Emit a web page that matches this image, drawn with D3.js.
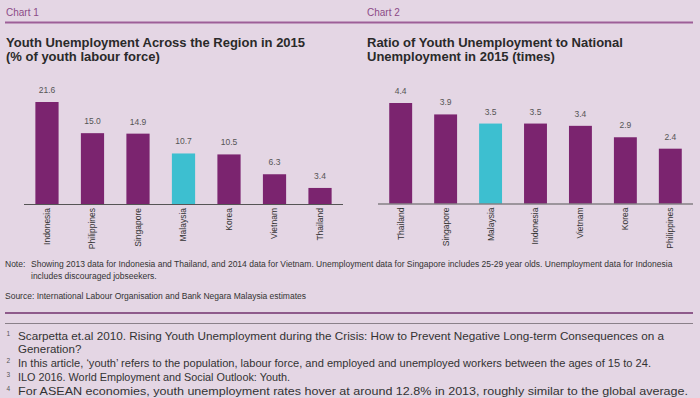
<!DOCTYPE html>
<html>
<head>
<meta charset="utf-8">
<script src="https://cdn.jsdelivr.net/npm/d3@7"></script>
<style>
  body { margin: 0; background: #e4d6e4; }
  svg { display: block; font-family: "Liberation Sans", Arial, sans-serif; }
</style>
</head>
<body>
<svg id="chart"></svg>
<script>
var chart1Categories = ['Indonesia', 'Philippines', 'Singapore', 'Malaysia', 'Korea', 'Vietnam', 'Thailand']
var chart1Values = [21.6, 15.0, 14.9, 10.7, 10.5, 6.3, 3.4]
var chart2Categories = ['Thailand', 'Singapore', 'Malaysia', 'Indonesia', 'Vietnam', 'Korea', 'Philippines']
var chart2Values = [4.4, 3.9, 3.5, 3.5, 3.4, 2.9, 2.4]
var highlight = 'Malaysia'

var noteLines = [
  'Showing 2013 data for Indonesia and Thailand, and 2014 data for Vietnam. Unemployment data for Singapore includes 25-29 year olds. Unemployment data for Indonesia',
  'includes discouraged jobseekers.'
]
var sourceText = 'Source: International Labour Organisation and Bank Negara Malaysia estimates'
var footnoteMarks = ['1', '', '2', '3', '4']
var footnoteLines = [
  'Scarpetta et.al 2010. Rising Youth Unemployment during the Crisis: How to Prevent Negative Long-term Consequences on a',
  'Generation?',
  'In this article, \u2018youth\u2019 refers to the population, labour force, and employed and unemployed workers between the ages of 15 to 24.',
  'ILO 2016. World Employment and Social Outlook: Youth.',
  'For ASEAN economies, youth unemployment rates hover at around 12.8% in 2013, roughly similar to the global average.'
]

var purple = '#7b246f'
var cyan = '#3dbfd0'
var fmt = d3.format('.1f')

var svg = d3.select('#chart').attr('width', 700).attr('height', 398)

svg.append('rect').attr('width', 700).attr('height', 398).attr('fill', '#e4d6e4')

// header
svg.append('text').attr('x', 6).attr('y', 15.5).attr('font-size', 10).attr('fill', '#8c4a87').text('Chart 1')
svg.append('text').attr('x', 367).attr('y', 15.5).attr('font-size', 10).attr('fill', '#8c4a87').text('Chart 2')
svg.append('line').attr('x1', 5).attr('x2', 693).attr('y1', 22.5).attr('y2', 22.5)
  .attr('stroke', '#9d5f98').attr('stroke-width', 2)

function title (x, lines) {
  lines.forEach(function (t, i) {
    svg.append('text').attr('x', x).attr('y', 47 + i * 14)
      .attr('font-size', 13).attr('font-weight', 'bold').attr('fill', '#2a2a2a').text(t)
  })
}
title(6, ['Youth Unemployment Across the Region in 2015', '(% of youth labour force)'])
title(367, ['Ratio of Youth Unemployment to National', 'Unemployment in 2015 (times)'])

function barChart (cats, vals, x0, x1, base, yMax, yTop) {
  var x = d3.scaleBand().domain(cats).range([x0, x1]).paddingInner(0.49).paddingOuter(0.25)
  var y = d3.scaleLinear().domain([0, yMax]).range([base, yTop])
  var data = cats.map((c, i) => ({ key: c, value: vals[i] }))
  var g = svg.append('g')

  g.selectAll('.bar').data(data).enter().append('rect')
    .attr('class', 'bar')
    .attr('x', d => x(d.key))
    .attr('width', x.bandwidth())
    .attr('y', d => y(d.value))
    .attr('height', d => base - y(d.value))
    .attr('fill', d => (d.key == highlight ? cyan : purple))

  g.selectAll('.val').data(data).enter().append('text')
    .attr('class', 'val')
    .attr('x', d => x(d.key) + x.bandwidth() / 2)
    .attr('y', d => y(d.value) - 9)
    .attr('text-anchor', 'middle')
    .attr('font-size', 8.5).attr('fill', '#555')
    .text(d => fmt(d.value))

  g.append('line').attr('x1', x0).attr('x2', x1).attr('y1', base + 0.5).attr('y2', base + 0.5)
    .attr('stroke', '#555').attr('stroke-width', 1)

  g.selectAll('.cat').data(data).enter().append('text')
    .attr('class', 'cat')
    .attr('transform', d => 'translate(' + (x(d.key) + x.bandwidth() / 2) + ',' + (base + 4) + ') rotate(-90)')
    .attr('text-anchor', 'end')
    .attr('dy', '0.35em')
    .attr('font-size', 8.5).attr('fill', '#333')
    .text(d => d.key)
}

barChart(chart1Categories, chart1Values, 24, 343, 204, 21.6, 102)
barChart(chart2Categories, chart2Values, 378, 693, 203.5, 4.4, 103)

// note and source
svg.append('text').attr('x', 5).attr('y', 267).attr('font-size', 8.5).attr('fill', '#333').text('Note:')
noteLines.forEach(function (t, i) {
  svg.append('text').attr('x', 31).attr('y', 267 + i * 11.5).attr('font-size', 8.5).attr('fill', '#333').text(t)
})
svg.append('text').attr('x', 5).attr('y', 298.5).attr('font-size', 8.5).attr('fill', '#333').text(sourceText)

// footnotes
svg.append('line').attr('x1', 5).attr('x2', 693).attr('y1', 313).attr('y2', 313)
  .attr('stroke', '#8e5a8b').attr('stroke-width', 2)
svg.append('line').attr('x1', 5).attr('x2', 693).attr('y1', 323.5).attr('y2', 323.5)
  .attr('stroke', '#8a8089').attr('stroke-width', 1.2)

var footEnds = [664, 0, 651, 290, 688]
footnoteLines.forEach(function (t, i) {
  var yy = 339.5 + i * 13.8
  if (footnoteMarks[i]) {
    svg.append('text').attr('x', 6.5).attr('y', yy - 4).attr('font-size', 6.5).attr('fill', '#555').text(footnoteMarks[i])
  }
  var tx = svg.append('text').attr('x', 18).attr('y', yy).attr('font-size', 11.5).attr('fill', '#333').text(t)
  if (footEnds[i]) tx.attr('textLength', footEnds[i] - 18).attr('lengthAdjust', 'spacingAndGlyphs')
})
</script>
</body>
</html>
